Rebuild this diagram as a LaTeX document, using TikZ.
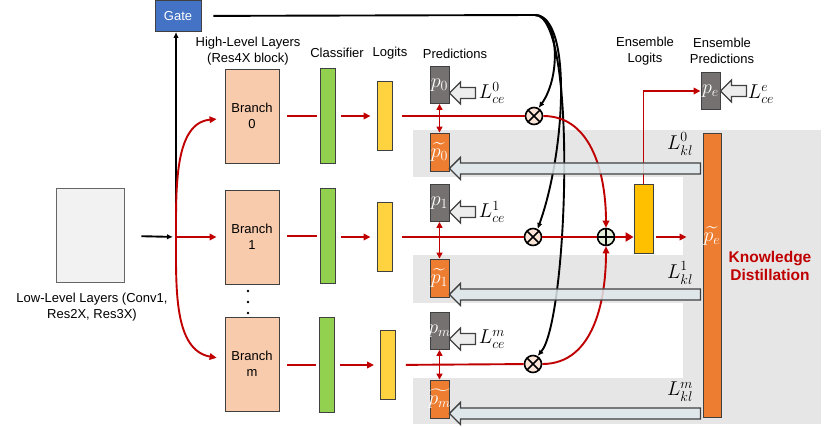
\documentclass[tikz,border=0pt]{standalone}
\usepackage{fix-cm}
\usepackage{amsmath}
\usepackage[no-math]{fontspec}
\setmainfont{Liberation Sans}
\usetikzlibrary{arrows.meta}

\definecolor{gateblue}{HTML}{4472C4}
\definecolor{branchfill}{HTML}{F8CBAD}
\definecolor{clsgreen}{HTML}{92D050}
\definecolor{logityellow}{HTML}{FFD23F}
\definecolor{ensyellow}{HTML}{FFC000}
\definecolor{predgray}{HTML}{767171}
\definecolor{predorange}{HTML}{ED7D31}
\definecolor{kdred}{HTML}{C00000}
\definecolor{bandgray}{HTML}{E6E6E6}
\definecolor{klfill}{HTML}{DEE8EC}
\definecolor{cefill}{HTML}{EDEDED}
\definecolor{mulfill}{HTML}{FBE5D6}
\definecolor{addfill}{HTML}{E2F0D9}
\definecolor{lowfill}{HTML}{F2F2F2}
\definecolor{boxline}{HTML}{404040}

\newcommand{\lossfont}{\fontsize{20}{24}\selectfont}
\newcommand{\predfont}{\fontsize{20}{24}\selectfont}
\newcommand{\hollowarrow}[4]{%
  \draw[#1] (#2) -- ++(#4,-11) -- ++(0,5.5) -- ++({#3-#4},0) -- ++(0,11)
    -- ++({#4-#3},0) -- ++(0,5.5) -- cycle;}

\begin{document}
\begin{tikzpicture}[x=1pt, y=-1pt,
  every node/.style={font=\fontsize{13}{15.5}\selectfont},
  box/.style={draw=boxline, line width=0.9pt, inner sep=0pt},
  gatebox/.style={box, fill=gateblue, text=white, minimum width=46, minimum height=31},
  lowbox/.style={box, draw=boxline!80, fill=lowfill, minimum width=68, minimum height=94},
  branch/.style={box, fill=branchfill, minimum width=54, minimum height=94, align=center},
  cls/.style={box, fill=clsgreen, minimum width=15, minimum height=95},
  logit/.style={box, fill=logityellow, minimum width=15, minimum height=69},
  pred/.style={box, fill=predgray, text=white, minimum width=19, minimum height=37, font=\predfont},
  soft/.style={pred, fill=predorange, minimum height=38},
  opnode/.style={circle, draw=black, line width=1.6pt, minimum size=17, inner sep=0pt},
  mulnode/.style={opnode, fill=mulfill, path picture={
    \draw[line width=1.6pt] (path picture bounding box.north west) -- (path picture bounding box.south east)
      (path picture bounding box.north east) -- (path picture bounding box.south west);}},
  addnode/.style={opnode, fill=addfill, path picture={
    \draw[line width=1.6pt] (path picture bounding box.north) -- (path picture bounding box.south)
      (path picture bounding box.east) -- (path picture bounding box.west);}},
  loss/.style={font=\lossfont, inner sep=0pt},
  kdtext/.style={font=\fontsize{15.5}{17.5}\selectfont\bfseries, text=kdred, align=center},
  blackline/.style={draw=black, line width=1.9pt},
  blackarrow/.style={blackline, -{Latex[length=6pt,width=5.5pt]}},
  redline/.style={draw=kdred, line width=1.9pt},
  redarrow/.style={redline, -{Triangle[length=7pt,width=6.5pt]}},
  cearrow/.style={draw=boxline, line width=1.3pt, fill=cefill},
  klarrow/.style={draw=boxline, line width=1.3pt, fill=klfill, fill opacity=0.85}]

\useasboundingbox (0,0) rectangle (830,426);
\fill[bandgray] (413,130) rectangle (821,424);
\fill[white] (413,177) rectangle (683,255);
\fill[white] (413,303) rectangle (683,378);

\node[gatebox] (gate) at (178,16) {Gate};
\node[lowbox] (low) at (90,235) {};
\node[align=center] (lowlabel) at (92,307) {Low-Level Layers (Conv1,\\Res2X, Res3X)};
\node[align=center] (hltitle) at (248,51) {High-Level Layers\\(Res4X block)};
\node (clstitle) at (337,53) {Classifier};
\node (logtitle) at (390,53) {Logits};
\node (predtitle) at (455,54) {Predictions};
\node[align=center] (elogtitle) at (645,51) {Ensemble\\Logits};
\node[align=center] (epredtitle) at (722,51) {Ensemble\\Predictions};

\node[branch] (branch0) at (252,116) {Branch\\0};
\node[branch] (branch1) at (252,237) {Branch\\1};
\node[branch] (branchm) at (252,364) {Branch\\m};
\foreach \y in {291,302,313} \fill (248,\y) circle (1.4);

\node[cls] (cls0) at (327.5,116) {};
\node[cls] (cls1) at (327.5,236) {};
\node[cls] (clsm) at (326.5,365) {};
\node[logit] (logit0) at (384.5,116) {};
\node[logit] (logit1) at (384.5,237) {};
\node[logit] (logitm) at (388,365) {};

\node[pred] (pred0) at (439.5,85) {\makebox[0pt]{$p_0$}};
\node[pred] (pred1) at (439.5,203) {\makebox[0pt]{$p_1$}};
\node[pred] (predm) at (439.5,331) {\makebox[0pt]{$p_m$}};
\node[soft] (soft0) at (439.5,152) {\makebox[0pt]{$\widetilde{p_0}$}};
\node[soft] (soft1) at (439.5,278) {\makebox[0pt]{$\widetilde{p_1}$}};
\node[soft] (softm) at (439.5,399) {\makebox[0pt]{$\widetilde{p_m}$}};

\node[loss] (lce0) at (492,93) {$L^{0}_{ce}$};
\node[loss] (lce1) at (492,212) {$L^{1}_{ce}$};
\node[loss] (lcem) at (492,339) {$L^{m}_{ce}$};
\node[loss] (lcee) at (761,94) {$L^{e}_{ce}$};
\node[loss] (lkl0) at (680,144) {$L^{0}_{kl}$};
\node[loss] (lkl1) at (680,273) {$L^{1}_{kl}$};
\node[loss] (lklm) at (680,392) {$L^{m}_{kl}$};

\node[mulnode] (mul0) at (534,116) {};
\node[mulnode] (mul1) at (533,237) {};
\node[mulnode] (mulm) at (533,364) {};
\node[addnode] (add) at (606,237) {};

\node[box, fill=ensyellow, minimum width=19, minimum height=69] (elogits) at (643.5,218.5) {};
\node[pred] (pe) at (710.5,91) {\makebox[0pt]{$p_e$}};
\node[soft, minimum width=18, minimum height=284, anchor=north] (pet) at (712,133) {};
\node[text=white, font=\predfont] (pettext) at (712,236) {$\widetilde{p_e}$};
\node[kdtext] (kd) at (770,266) {Knowledge\\Distillation};

\coordinate (split) at (176,237);
\coordinate (gturn) at (535,15);

\draw[blackarrow, shorten <=17pt, shorten >=3pt] (low) -- (split);
\draw[blackarrow] (split) -- (split |- gate.south);
\draw[blackline, shorten <=12pt] (gate) -- (gturn);
\draw[blackarrow] (gturn) .. controls (558,15) and (562,75) .. (mul0.60);
\draw[blackarrow] (gturn) .. controls (572,15) and (566,150) .. (mul1.60);
\draw[blackarrow] (gturn) .. controls (578,15) and (568,320) .. (mulm.60);

\draw[redarrow, shorten >=8pt] (split) to[out=90, in=185] (branch0);
\draw[redarrow, shorten >=8pt] (split) -- (branch1);
\draw[redarrow, shorten >=8pt] (split) to[out=-90, in=170] (branchm);

\draw[redline, shorten <=8pt, shorten >=3pt] (branch0) -- (cls0);
\draw[redline, shorten <=8pt, shorten >=3pt] (branch1.east |- cls1) -- (cls1);
\draw[redline, shorten <=8pt, shorten >=3pt] (branchm.east |- clsm) -- (clsm);
\draw[redarrow, shorten <=6pt, shorten >=6pt] (cls0) -- (logit0);
\draw[redarrow, shorten <=6pt, shorten >=6pt] (cls1.east |- logit1) -- (logit1);
\draw[redarrow, shorten <=6pt, shorten >=6pt] (clsm) -- (logitm);
\draw[redline, shorten <=10pt] (logit0) -- (mul0);
\draw[redline, shorten <=10pt] (logit1) -- (mul1);
\draw[redline, shorten <=10pt] (logitm) -- (mulm);

\draw[redline, {Triangle[length=6pt,width=6pt]}-{Triangle[length=6pt,width=6pt]}] (pred0) -- (soft0);
\draw[redline, {Triangle[length=6pt,width=6pt]}-{Triangle[length=6pt,width=6pt]}] (pred1) -- (soft1);
\draw[redline, {Triangle[length=6pt,width=6pt]}-{Triangle[length=6pt,width=6pt]}] (predm) -- (softm);

\draw[redarrow] (mul0) to[out=0, in=90] (add);
\draw[redline] (mul1) -- (add);
\draw[redarrow] (mulm) to[out=0, in=-90] (add);
\draw[redline, line width=2.8pt, -{Triangle[length=8pt,width=9pt]}] (add) -- (elogits.west |- add);
\draw[redarrow, shorten <=3pt, shorten >=16pt] (elogits.east |- add) -- (pet.west |- add);
\draw[redarrow] (elogits.north) |- (pe);

\hollowarrow{cearrow}{pred0.east |- lce0}{26}{11}
\hollowarrow{cearrow}{pred1.east |- lce1}{26}{11}
\hollowarrow{cearrow}{predm.east |- lcem}{26}{11}
\hollowarrow{cearrow}{pe.east}{26}{11}
\hollowarrow{klarrow}{[yshift=3pt]soft0.south east}{251}{11}
\hollowarrow{klarrow}{[yshift=3pt]soft1.south east}{251}{11}
\hollowarrow{klarrow}{[yshift=5pt]softm.south east}{251}{11}
\end{tikzpicture}
\end{document}
